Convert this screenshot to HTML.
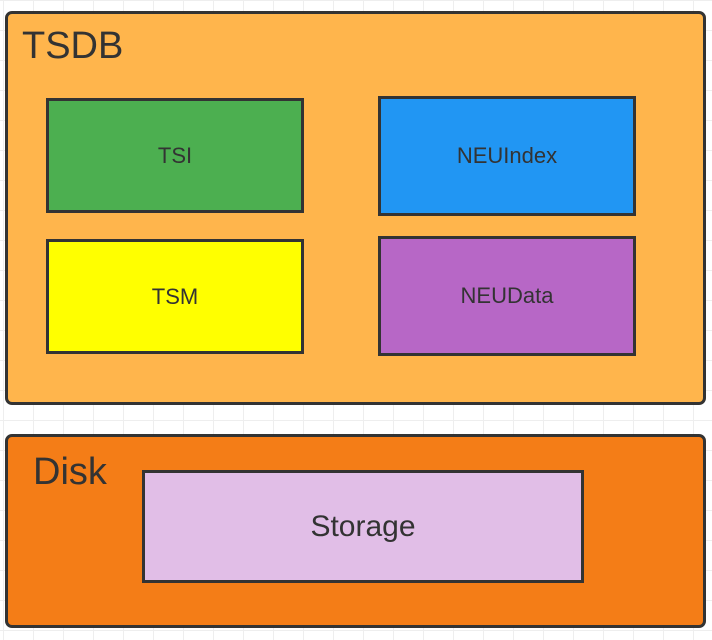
<!DOCTYPE html>
<html><head><style>
body{margin:0;width:712px;height:640px;overflow:hidden;background:#fff;
background-image:linear-gradient(#eee 1px,transparent 1px),linear-gradient(90deg,#eee 1px,transparent 1px);
background-size:30px 30px;background-position:3px 0,3px 0;font-family:"Liberation Sans",sans-serif;position:relative}
.b{position:absolute;box-sizing:border-box;border:3px solid #333;display:flex;align-items:center;justify-content:center;color:#333;font-size:22px}
.o{border-radius:7px;display:block}
.t{position:absolute;font-size:38px;color:#333}
</style></head><body>
<div class="b o" style="left:5px;top:11px;width:701px;height:394px;background:#ffb54c"></div>
<div class="t" style="left:22px;top:25px">TSDB</div>
<div class="b" style="left:46px;top:98px;width:258px;height:115px;background:#4caf50">TSI</div>
<div class="b" style="left:378px;top:96px;width:258px;height:120px;background:#2196f3">NEUIndex</div>
<div class="b" style="left:46px;top:239px;width:258px;height:115px;background:#ffff00">TSM</div>
<div class="b" style="left:378px;top:236px;width:258px;height:120px;background:#b767c6">NEUData</div>
<div class="b o" style="left:5px;top:434px;width:701px;height:194px;background:#f47d17"></div>
<div class="t" style="left:33px;top:451px">Disk</div>
<div class="b" style="left:142px;top:470px;width:442px;height:113px;background:#e1bee7;font-size:30px">Storage</div>
</body></html>
